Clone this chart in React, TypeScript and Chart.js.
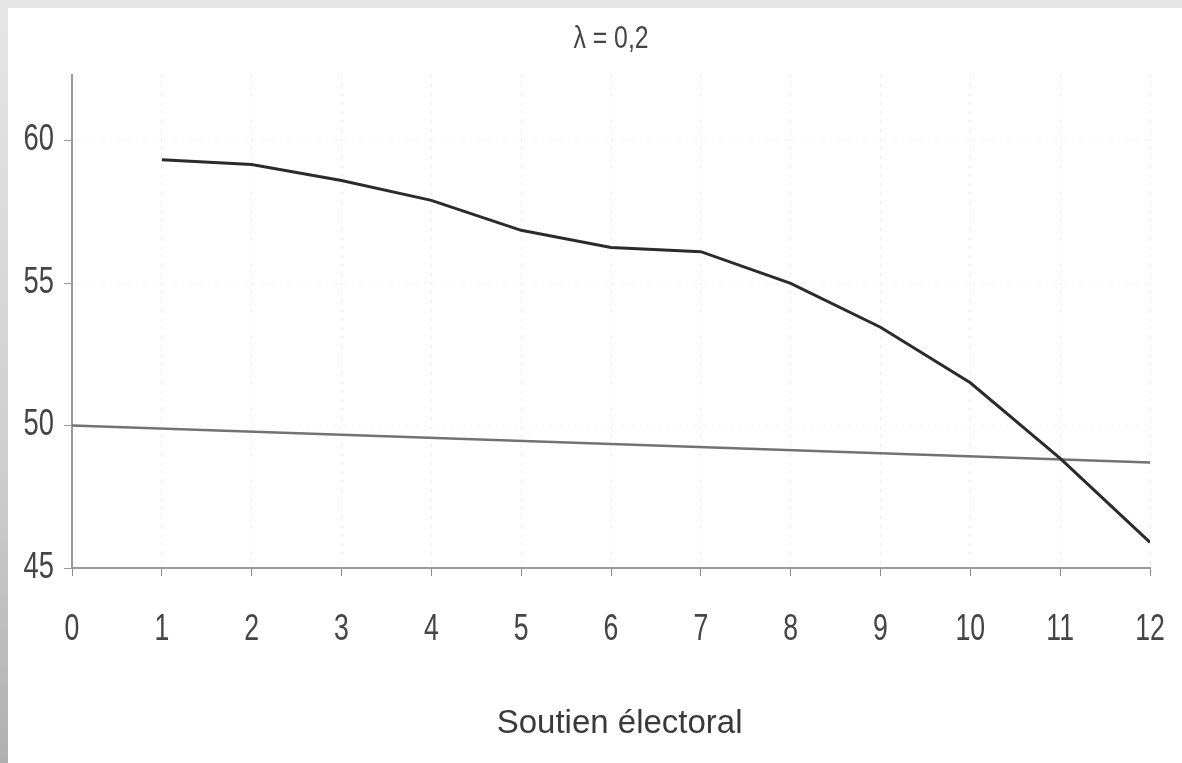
import React, { useEffect, useRef } from "react";
import { Chart, registerables } from "chart.js";

Chart.register(...registerables);

const TITLE = "λ = 0,2";
const X_TITLE = "Soutien électoral";
const X_TICKS = [0, 1, 2, 3, 4, 5, 6, 7, 8, 9, 10, 11, 12];
const Y_TICKS = [45, 50, 55, 60];
const CURVE_X = [1, 2, 3, 4, 5, 6, 7, 8, 9, 10, 11, 12];
const CURVE_Y = [59.33, 59.16, 58.6, 57.9, 56.85, 56.25, 56.1, 54.99, 53.45, 51.5, 48.85, 45.9];
const FLAT_X = [0, 12];
const FLAT_Y = [50.0, 48.7];

const FONT = '"Liberation Sans", Arial, sans-serif';
const TEXT_COLOR = "#454545";

function narrowText(ctx: any, text: string, x: number, y: number, size: number, sx: number, align: string) {
  ctx.save();
  ctx.translate(x, y);
  ctx.scale(sx, 1);
  ctx.font = `${size}px ${FONT}`;
  ctx.textAlign = align;
  ctx.textBaseline = "middle";
  ctx.fillStyle = TEXT_COLOR;
  ctx.fillText(text, 0, 0);
  ctx.restore();
}

const textPlugin = {
  id: "textPlugin",
  afterDraw(chart: any) {
    const { ctx, chartArea, scales } = chart;
    const w = chartArea.right - chartArea.left;
    // title
    narrowText(ctx, TITLE, chartArea.left + w * 0.5, 31, 31, 0.8, "center");
    // x tick labels
    const xs = scales.x;
    xs.ticks.forEach((t: any) => {
      const px = xs.getPixelForValue(t.value);
      narrowText(ctx, String(t.value), px, chartArea.bottom + 62, 36, 0.74, "center");
    });
    // y tick labels
    const ys = scales.y;
    ys.ticks.forEach((t: any) => {
      const py = ys.getPixelForValue(t.value);
      narrowText(ctx, String(t.value), chartArea.left - 18, py, 36, 0.76, "right");
    });
    // x axis title
    ctx.save();
    ctx.font = `33px ${FONT}`;
    ctx.fillStyle = "#3a3a3a";
    ctx.textAlign = "center";
    ctx.textBaseline = "middle";
    ctx.fillText(X_TITLE, chartArea.left + w * 0.508, 716);
    ctx.restore();
  },
};

export default function App() {
  const ref = useRef<HTMLCanvasElement | null>(null);
  useEffect(() => {
    const html = document.documentElement;
    html.style.height = "100%";
    html.style.background = "linear-gradient(to bottom, #e6e6e6 0%, #cfcfcf 60%, #b0b0b0 100%)";
    html.style.overflow = "hidden";
    const chart = new Chart(ref.current as HTMLCanvasElement, {
      type: "scatter",
      data: {
        datasets: [
          {
            data: CURVE_X.map((x, i) => ({ x, y: CURVE_Y[i] })),
            showLine: true,
            borderColor: "#2b2b2b",
            borderWidth: 3,
            pointRadius: 0,
            tension: 0,
          },
          {
            data: FLAT_X.map((x, i) => ({ x, y: FLAT_Y[i] })),
            showLine: true,
            borderColor: "#727272",
            borderWidth: 2.5,
            pointRadius: 0,
          },
        ],
      },
      options: {
        animation: false,
        responsive: false,
        layout: { padding: { top: 67, right: 32, left: 0, bottom: 0 } },
        plugins: { legend: { display: false }, tooltip: { enabled: false } },
        scales: {
          x: {
            type: "linear",
            min: 0,
            max: 12,
            afterBuildTicks: (s: any) => {
              s.ticks = X_TICKS.map((v) => ({ value: v }));
            },
            afterFit: (s: any) => {
              s.height = 195;
            },
            border: { display: true, color: "#9a9a9a", width: 2, dash: [3, 6] },
            grid: {
              color: "rgba(0,0,0,0.07)",
              tickColor: "#8a8a8a",
              tickLength: 8,
              drawTicks: true,
            },
            ticks: { display: false },
          },
          y: {
            type: "linear",
            min: 45,
            max: 62.3,
            afterBuildTicks: (s: any) => {
              s.ticks = Y_TICKS.map((v) => ({ value: v }));
            },
            afterFit: (s: any) => {
              s.width = 64;
            },
            border: { display: true, color: "#9a9a9a", width: 2, dash: [3, 6] },
            grid: {
              color: "rgba(0,0,0,0.05)",
              tickColor: "#9a9a9a",
              tickLength: 8,
            },
            ticks: { display: false },
          },
        },
      },
      plugins: [textPlugin],
    } as any);
    return () => chart.destroy();
  }, []);
  return (
    <div
      style={{
        position: "fixed",
        left: 8,
        top: 8,
        width: 1174,
        height: 755,
        background: "#fff",
      }}
    >
      <canvas ref={ref} width={1174} height={755} style={{ display: "block" }} />
    </div>
  );
}
